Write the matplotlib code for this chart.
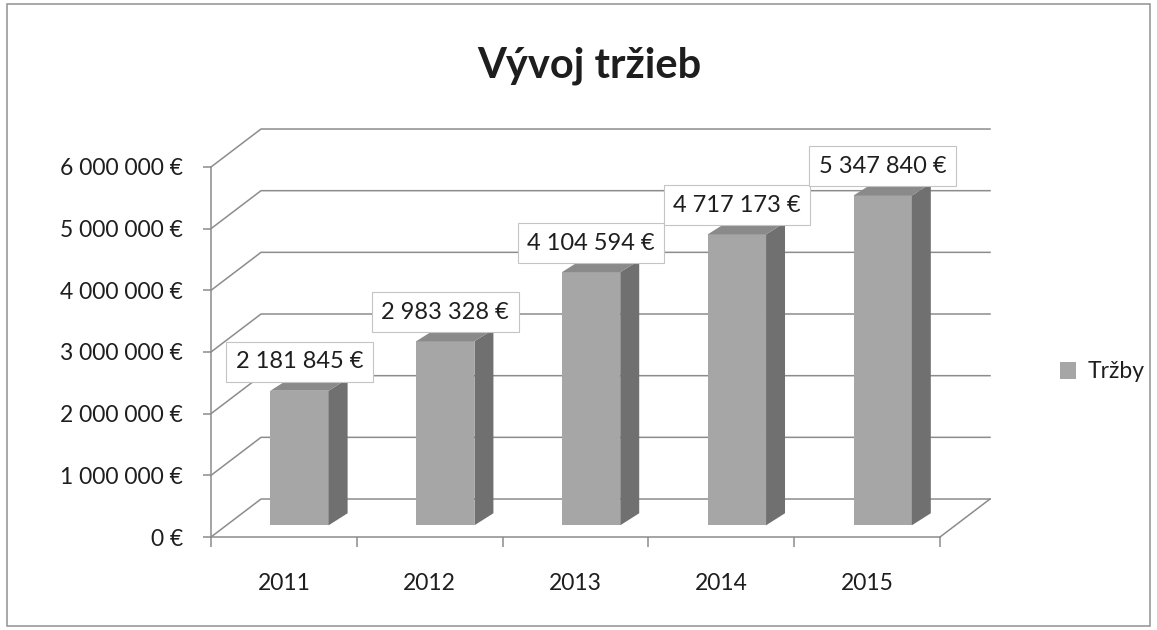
import matplotlib
matplotlib.use('Agg')
import matplotlib.pyplot as plt
import numpy as np
from matplotlib.patches import Polygon, Rectangle
from matplotlib.ticker import FuncFormatter

plt.rcParams['font.family'] = ['Lato', 'DejaVu Sans']

# data
years = ['2011', '2012', '2013', '2014', '2015']
trzby = [2181845, 2983328, 4104594, 4717173, 5347840]
y_ticks = [0, 1000000, 2000000, 3000000, 4000000, 5000000, 6000000]
title = 'Vývoj tržieb'
series_name = 'Tržby'

front_c = '#a6a6a6'
side_c = '#707070'
top_c = '#8a8a8a'
grid_c = '#8c8c8c'
text_c = '#1e1e1e'


def euro(v, pos=None):
    return f'{int(round(v)):,}'.replace(',', ' ') + ' €'


fig = plt.figure(figsize=(11.57, 6.3), dpi=100)
ax = fig.add_axes([211 / 1157, 93 / 630, 729 / 1157, 370 / 630])
ax.set_xlim(0, len(years))
ax.set_ylim(0, 6000000)

# 3d-ish depth of the walls and of the bars (data units)
wall_dx, wall_dy = 0.343, 616000
fx, fy = 0.107, 190000
sx, sy = 0.13, 195000
w = 0.40

# back wall + side wall gridlines
for v in y_ticks:
    ax.plot([0, wall_dx, len(years) + wall_dx], [v, v + wall_dy, v + wall_dy],
            color=grid_c, lw=1.1, clip_on=False, zorder=1)
ax.plot([len(years), len(years) + wall_dx], [0, wall_dy], color=grid_c, lw=1.1,
        clip_on=False, zorder=1)

x = np.arange(len(years)) + 0.5
bars = ax.bar(x + fx, trzby, width=w, bottom=fy, color=front_c, zorder=3,
              clip_on=False, label=series_name)
for xi, v in zip(x, trzby):
    l = xi + fx - w / 2
    r = xi + fx + w / 2
    side = Polygon([(r, fy), (r + sx, fy + sy), (r + sx, fy + v + sy), (r, fy + v)],
                   closed=True, fc=side_c, ec='none', zorder=3, clip_on=False)
    top = Polygon([(l, fy + v), (l + sx, fy + v + sy), (r + sx, fy + v + sy), (r, fy + v)],
                  closed=True, fc=top_c, ec='none', zorder=3, clip_on=False)
    ax.add_patch(side)
    ax.add_patch(top)
    ax.annotate(euro(v), (xi + fx, fy + v), xytext=(0, 21), textcoords='offset points',
                ha='center', va='center', fontsize=17, color=text_c, zorder=5,
                bbox=dict(boxstyle='square,pad=0.4', fc='white', ec='#c4c4c4', lw=0.8))

# axes
ax.set_yticks(y_ticks)
ax.yaxis.set_major_formatter(FuncFormatter(euro))
ax.tick_params(axis='y', length=6, color=grid_c, width=1.1, pad=14, labelsize=16.5,
               labelcolor=text_c)
ax.set_xticks(np.arange(len(years) + 1))
ax.set_xticklabels([])
ax.set_xticks(x, minor=True)
ax.set_xticklabels(years, minor=True)
ax.tick_params(axis='x', which='major', length=7, color=grid_c, width=1.1)
ax.tick_params(axis='x', which='minor', length=0, pad=26, labelsize=16.5, labelcolor=text_c)
for s in ['top', 'right']:
    ax.spines[s].set_visible(False)
for s in ['left', 'bottom']:
    ax.spines[s].set_color(grid_c)
    ax.spines[s].set_linewidth(1.1)
ax.patch.set_visible(False)

fig.text(589 / 1157, 1 - 66 / 630, title, ha='center', va='center', fontsize=30,
         fontweight='bold', color=text_c)

fig.legend(handles=[bars], loc='center left', bbox_to_anchor=(1060 / 1157, 1 - 372 / 630),
           frameon=False, fontsize=16.5, handlelength=0.7, handleheight=0.7,
           handletextpad=0.5, borderpad=0, borderaxespad=0, labelcolor=text_c)

fig.patches.append(Rectangle((7 / 1157, 4 / 630), 1143 / 1157, 622 / 630,
                             transform=fig.transFigure, fill=False, ec='#9a9a9a', lw=1.2))

fig.savefig('out.png', dpi=100)
